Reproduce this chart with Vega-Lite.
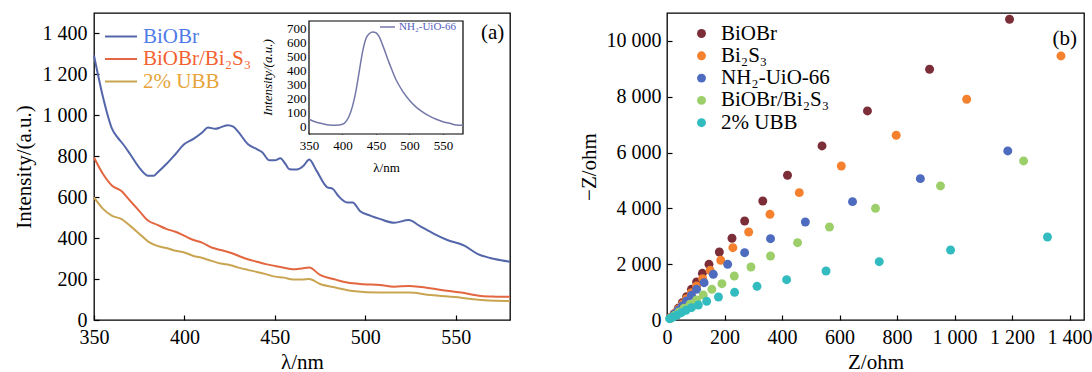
{
  "$schema": "https://vega.github.io/schema/vega-lite/v6.json",
  "padding": {"left": 12, "top": 12, "right": 0, "bottom": 0},
  "spacing": 62,
  "config": {
    "font": "Liberation Serif",
    "view": {"stroke": "#000", "strokeWidth": 1.3},
    "axis": {"domain": false, "grid": false, "ticks": true, "tickColor": "#000", "tickWidth": 1.2, "tickSize": -5, "labelPadding": 12, "labelFontSize": 20, "labelColor": "#000", "titleFontSize": 21, "titleFontWeight": "normal", "titleColor": "#000", "labelFlush": false, "zindex": 1},
    "legend": {"padding": 0}
  },
  "datasets": {
    "pl": [
      {"s":"BiOBr","wl":350,"v":1292},{"s":"BiOBr","wl":355,"v":1088},{"s":"BiOBr","wl":360,"v":934},{"s":"BiOBr","wl":363,"v":892},{"s":"BiOBr","wl":366,"v":860},{"s":"BiOBr","wl":370,"v":810},{"s":"BiOBr","wl":375,"v":745},{"s":"BiOBr","wl":380,"v":705},{"s":"BiOBr","wl":383,"v":705},{"s":"BiOBr","wl":385,"v":720},{"s":"BiOBr","wl":390,"v":762},{"s":"BiOBr","wl":395,"v":810},{"s":"BiOBr","wl":400,"v":860},{"s":"BiOBr","wl":405,"v":885},{"s":"BiOBr","wl":410,"v":917},{"s":"BiOBr","wl":413,"v":941},{"s":"BiOBr","wl":417,"v":934},{"s":"BiOBr","wl":420,"v":941},{"s":"BiOBr","wl":424,"v":952},{"s":"BiOBr","wl":427,"v":945},{"s":"BiOBr","wl":430,"v":917},{"s":"BiOBr","wl":435,"v":860},{"s":"BiOBr","wl":440,"v":835},{"s":"BiOBr","wl":443,"v":820},{"s":"BiOBr","wl":447,"v":780},{"s":"BiOBr","wl":450,"v":780},{"s":"BiOBr","wl":453,"v":790},{"s":"BiOBr","wl":456,"v":760},{"s":"BiOBr","wl":458,"v":737},{"s":"BiOBr","wl":462,"v":735},{"s":"BiOBr","wl":466,"v":755},{"s":"BiOBr","wl":469,"v":784},{"s":"BiOBr","wl":473,"v":730},{"s":"BiOBr","wl":479,"v":648},{"s":"BiOBr","wl":482,"v":641},{"s":"BiOBr","wl":485,"v":607},{"s":"BiOBr","wl":490,"v":574},{"s":"BiOBr","wl":493,"v":574},{"s":"BiOBr","wl":497,"v":533},{"s":"BiOBr","wl":503,"v":509},{"s":"BiOBr","wl":508,"v":494},{"s":"BiOBr","wl":516,"v":475},{"s":"BiOBr","wl":524,"v":489},{"s":"BiOBr","wl":530,"v":460},{"s":"BiOBr","wl":538,"v":421},{"s":"BiOBr","wl":545,"v":392},{"s":"BiOBr","wl":555,"v":362},{"s":"BiOBr","wl":562,"v":323},{"s":"BiOBr","wl":569,"v":303},{"s":"BiOBr","wl":575,"v":292},{"s":"BiOBr","wl":580,"v":285},
      {"s":"BiOBr/Bi₂S₃","wl":350,"v":794},{"s":"BiOBr/Bi₂S₃","wl":355,"v":713},{"s":"BiOBr/Bi₂S₃","wl":360,"v":656},{"s":"BiOBr/Bi₂S₃","wl":365,"v":631},{"s":"BiOBr/Bi₂S₃","wl":370,"v":582},{"s":"BiOBr/Bi₂S₃","wl":375,"v":533},{"s":"BiOBr/Bi₂S₃","wl":380,"v":485},{"s":"BiOBr/Bi₂S₃","wl":385,"v":465},{"s":"BiOBr/Bi₂S₃","wl":390,"v":445},{"s":"BiOBr/Bi₂S₃","wl":395,"v":431},{"s":"BiOBr/Bi₂S₃","wl":400,"v":411},{"s":"BiOBr/Bi₂S₃","wl":405,"v":391},{"s":"BiOBr/Bi₂S₃","wl":410,"v":377},{"s":"BiOBr/Bi₂S₃","wl":415,"v":354},{"s":"BiOBr/Bi₂S₃","wl":420,"v":342},{"s":"BiOBr/Bi₂S₃","wl":425,"v":330},{"s":"BiOBr/Bi₂S₃","wl":430,"v":313},{"s":"BiOBr/Bi₂S₃","wl":435,"v":297},{"s":"BiOBr/Bi₂S₃","wl":440,"v":285},{"s":"BiOBr/Bi₂S₃","wl":445,"v":273},{"s":"BiOBr/Bi₂S₃","wl":450,"v":264},{"s":"BiOBr/Bi₂S₃","wl":455,"v":255},{"s":"BiOBr/Bi₂S₃","wl":460,"v":248},{"s":"BiOBr/Bi₂S₃","wl":465,"v":252},{"s":"BiOBr/Bi₂S₃","wl":469,"v":256},{"s":"BiOBr/Bi₂S₃","wl":475,"v":220},{"s":"BiOBr/Bi₂S₃","wl":484,"v":196},{"s":"BiOBr/Bi₂S₃","wl":490,"v":183},{"s":"BiOBr/Bi₂S₃","wl":499,"v":175},{"s":"BiOBr/Bi₂S₃","wl":508,"v":171},{"s":"BiOBr/Bi₂S₃","wl":516,"v":163},{"s":"BiOBr/Bi₂S₃","wl":524,"v":166},{"s":"BiOBr/Bi₂S₃","wl":531,"v":161},{"s":"BiOBr/Bi₂S₃","wl":542,"v":147},{"s":"BiOBr/Bi₂S₃","wl":553,"v":134},{"s":"BiOBr/Bi₂S₃","wl":564,"v":117},{"s":"BiOBr/Bi₂S₃","wl":572,"v":114},{"s":"BiOBr/Bi₂S₃","wl":580,"v":113},
      {"s":"2% UBB","wl":350,"v":599},{"s":"2% UBB","wl":355,"v":543},{"s":"2% UBB","wl":360,"v":509},{"s":"2% UBB","wl":365,"v":494},{"s":"2% UBB","wl":370,"v":460},{"s":"2% UBB","wl":375,"v":422},{"s":"2% UBB","wl":380,"v":383},{"s":"2% UBB","wl":385,"v":362},{"s":"2% UBB","wl":390,"v":352},{"s":"2% UBB","wl":395,"v":338},{"s":"2% UBB","wl":400,"v":330},{"s":"2% UBB","wl":405,"v":313},{"s":"2% UBB","wl":410,"v":303},{"s":"2% UBB","wl":415,"v":289},{"s":"2% UBB","wl":420,"v":276},{"s":"2% UBB","wl":425,"v":269},{"s":"2% UBB","wl":430,"v":256},{"s":"2% UBB","wl":435,"v":245},{"s":"2% UBB","wl":440,"v":235},{"s":"2% UBB","wl":445,"v":224},{"s":"2% UBB","wl":450,"v":212},{"s":"2% UBB","wl":455,"v":207},{"s":"2% UBB","wl":460,"v":198},{"s":"2% UBB","wl":465,"v":198},{"s":"2% UBB","wl":469,"v":200},{"s":"2% UBB","wl":475,"v":176},{"s":"2% UBB","wl":484,"v":158},{"s":"2% UBB","wl":493,"v":142},{"s":"2% UBB","wl":508,"v":134},{"s":"2% UBB","wl":524,"v":134},{"s":"2% UBB","wl":536,"v":122},{"s":"2% UBB","wl":553,"v":109},{"s":"2% UBB","wl":564,"v":98},{"s":"2% UBB","wl":572,"v":94},{"s":"2% UBB","wl":580,"v":93}
    ],
    "inset": [
      {"s":"NH₂-UiO-66","wl":350,"v":54},{"s":"NH₂-UiO-66","wl":360,"v":35},{"s":"NH₂-UiO-66","wl":370,"v":23},{"s":"NH₂-UiO-66","wl":380,"v":14},{"s":"NH₂-UiO-66","wl":390,"v":12},{"s":"NH₂-UiO-66","wl":400,"v":19},{"s":"NH₂-UiO-66","wl":405,"v":37},{"s":"NH₂-UiO-66","wl":410,"v":77},{"s":"NH₂-UiO-66","wl":415,"v":147},{"s":"NH₂-UiO-66","wl":420,"v":252},{"s":"NH₂-UiO-66","wl":425,"v":392},{"s":"NH₂-UiO-66","wl":430,"v":532},{"s":"NH₂-UiO-66","wl":435,"v":625},{"s":"NH₂-UiO-66","wl":440,"v":660},{"s":"NH₂-UiO-66","wl":445,"v":672},{"s":"NH₂-UiO-66","wl":450,"v":667},{"s":"NH₂-UiO-66","wl":455,"v":637},{"s":"NH₂-UiO-66","wl":460,"v":579},{"s":"NH₂-UiO-66","wl":470,"v":450},{"s":"NH₂-UiO-66","wl":480,"v":334},{"s":"NH₂-UiO-66","wl":490,"v":252},{"s":"NH₂-UiO-66","wl":500,"v":189},{"s":"NH₂-UiO-66","wl":510,"v":140},{"s":"NH₂-UiO-66","wl":520,"v":105},{"s":"NH₂-UiO-66","wl":530,"v":77},{"s":"NH₂-UiO-66","wl":540,"v":54},{"s":"NH₂-UiO-66","wl":550,"v":37},{"s":"NH₂-UiO-66","wl":560,"v":26},{"s":"NH₂-UiO-66","wl":570,"v":14},{"s":"NH₂-UiO-66","wl":580,"v":12}
    ],
    "pr": [
      {"s":"BiOBr","x":12,"y":84},{"s":"BiOBr","x":25,"y":227},{"s":"BiOBr","x":39,"y":418},{"s":"BiOBr","x":53,"y":621},{"s":"BiOBr","x":68,"y":836},{"s":"BiOBr","x":85,"y":1099},{"s":"BiOBr","x":103,"y":1362},{"s":"BiOBr","x":123,"y":1673},{"s":"BiOBr","x":146,"y":1995},{"s":"BiOBr","x":182,"y":2437},{"s":"BiOBr","x":226,"y":2928},{"s":"BiOBr","x":270,"y":3548},{"s":"BiOBr","x":333,"y":4265},{"s":"BiOBr","x":419,"y":5186},{"s":"BiOBr","x":539,"y":6236},{"s":"BiOBr","x":697,"y":7490},{"s":"BiOBr","x":913,"y":8984},{"s":"BiOBr","x":1191,"y":10775},
      {"s":"Bi₂S₃","x":12,"y":84},{"s":"Bi₂S₃","x":25,"y":227},{"s":"Bi₂S₃","x":39,"y":382},{"s":"Bi₂S₃","x":53,"y":562},{"s":"Bi₂S₃","x":68,"y":765},{"s":"Bi₂S₃","x":85,"y":980},{"s":"Bi₂S₃","x":103,"y":1219},{"s":"Bi₂S₃","x":124,"y":1481},{"s":"Bi₂S₃","x":150,"y":1780},{"s":"Bi₂S₃","x":187,"y":2140},{"s":"Bi₂S₃","x":229,"y":2592},{"s":"Bi₂S₃","x":284,"y":3154},{"s":"Bi₂S₃","x":358,"y":3787},{"s":"Bi₂S₃","x":460,"y":4563},{"s":"Bi₂S₃","x":606,"y":5519},{"s":"Bi₂S₃","x":797,"y":6620},{"s":"Bi₂S₃","x":1042,"y":7910},{"s":"Bi₂S₃","x":1370,"y":9462},
      {"s":"NH₂-UiO-66","x":12,"y":60},{"s":"NH₂-UiO-66","x":25,"y":203},{"s":"NH₂-UiO-66","x":39,"y":346},{"s":"NH₂-UiO-66","x":53,"y":502},{"s":"NH₂-UiO-66","x":68,"y":681},{"s":"NH₂-UiO-66","x":85,"y":884},{"s":"NH₂-UiO-66","x":103,"y":1099},{"s":"NH₂-UiO-66","x":129,"y":1338},{"s":"NH₂-UiO-66","x":161,"y":1637},{"s":"NH₂-UiO-66","x":211,"y":1995},{"s":"NH₂-UiO-66","x":270,"y":2413},{"s":"NH₂-UiO-66","x":360,"y":2914},{"s":"NH₂-UiO-66","x":481,"y":3512},{"s":"NH₂-UiO-66","x":645,"y":4241},{"s":"NH₂-UiO-66","x":881,"y":5065},{"s":"NH₂-UiO-66","x":1185,"y":6057},
      {"s":"BiOBr/Bi₂S₃","x":12,"y":60},{"s":"BiOBr/Bi₂S₃","x":27,"y":167},{"s":"BiOBr/Bi₂S₃","x":42,"y":287},{"s":"BiOBr/Bi₂S₃","x":59,"y":418},{"s":"BiOBr/Bi₂S₃","x":80,"y":562},{"s":"BiOBr/Bi₂S₃","x":103,"y":717},{"s":"BiOBr/Bi₂S₃","x":126,"y":896},{"s":"BiOBr/Bi₂S₃","x":156,"y":1099},{"s":"BiOBr/Bi₂S₃","x":191,"y":1302},{"s":"BiOBr/Bi₂S₃","x":234,"y":1577},{"s":"BiOBr/Bi₂S₃","x":292,"y":1900},{"s":"BiOBr/Bi₂S₃","x":360,"y":2294},{"s":"BiOBr/Bi₂S₃","x":454,"y":2771},{"s":"BiOBr/Bi₂S₃","x":565,"y":3333},{"s":"BiOBr/Bi₂S₃","x":725,"y":4002},{"s":"BiOBr/Bi₂S₃","x":951,"y":4803},{"s":"BiOBr/Bi₂S₃","x":1240,"y":5699},
      {"s":"2% UBB","x":9,"y":48},{"s":"2% UBB","x":21,"y":107},{"s":"2% UBB","x":35,"y":179},{"s":"2% UBB","x":50,"y":263},{"s":"2% UBB","x":66,"y":346},{"s":"2% UBB","x":85,"y":442},{"s":"2% UBB","x":109,"y":538},{"s":"2% UBB","x":138,"y":669},{"s":"2% UBB","x":179,"y":824},{"s":"2% UBB","x":235,"y":992},{"s":"2% UBB","x":313,"y":1207},{"s":"2% UBB","x":416,"y":1445},{"s":"2% UBB","x":553,"y":1756},{"s":"2% UBB","x":738,"y":2090},{"s":"2% UBB","x":986,"y":2509},{"s":"2% UBB","x":1323,"y":2975}
    ]
  },
  "hconcat": [
    {
      "width": 416,
      "height": 307,
      "layer": [
        {
          "layer": [
            {
              "data": {"name": "pl"},
              "mark": {"type": "line", "strokeWidth": 2, "interpolate": "monotone"},
              "encoding": {
                "x": {"field": "wl", "type": "quantitative", "title": "λ/nm", "scale": {"domain": [350, 580], "nice": false, "zero": false}, "axis": {"values": [350, 400, 450, 500, 550], "titlePadding": 4}},
                "y": {"field": "v", "type": "quantitative", "title": "Intensity/(a.u.)", "scale": {"domain": [0, 1500], "nice": false}, "axis": {"values": [0, 200, 400, 600, 800, 1000, 1200, 1400], "labelExpr": "replace(format(datum.value, ','), ',', ' ')", "titlePadding": 8}},
                "color": {
                  "field": "s", "type": "nominal",
                  "scale": {"domain": ["BiOBr", "BiOBr/Bi₂S₃", "2% UBB"], "range": ["#5466aa", "#e2663f", "#c9a552"]},
                  "legend": {
                    "title": null, "orient": "none", "legendX": 10, "legendY": 13,
                    "symbolType": "stroke", "symbolSize": 1024, "symbolStrokeWidth": 2, "clipHeight": 21, "rowPadding": 0.5,
                    "labelFontSize": 21, "labelOffset": 5, "labelLimit": 300,
                    "encode": {"labels": {"update": {"fill": {"signal": "datum.index === 0 ? '#4f7be8' : datum.index === 2 ? '#e6a43a' : '#f2622f'"}}}}
                  }
                }
              }
            },
            {
              "data": {"values": [{"t": "(a)", "x": 570.4, "y": 1400}]},
              "mark": {"type": "text", "fontSize": 21, "align": "center", "baseline": "middle", "color": "#000"},
              "encoding": {
                "x": {"field": "x", "type": "quantitative", "title": "λ/nm"},
                "y": {"field": "y", "type": "quantitative", "title": "Intensity/(a.u.)"},
                "text": {"field": "t"}
              }
            }
          ]
        },
        {
          "layer": [
            {
              "data": {"values": [{"x0": 350, "x1": 580, "y0": -50, "y1": 750}]},
              "mark": {"type": "rect", "fill": "#fff", "stroke": "#000", "strokeWidth": 1.2},
              "encoding": {
                "x": {"field": "x0", "type": "quantitative", "title": "λ/nm", "scale": {"domain": [28.9, 650.2], "nice": false, "zero": false}, "axis": {"orient": "bottom", "offset": -186, "values": [350, 400, 450, 500, 550], "tickSize": -3, "labelPadding": 8, "labelFontSize": 13, "titleFontSize": 13, "titleX": 292, "titleY": 27}},
                "x2": {"field": "x1"},
                "y": {"field": "y0", "type": "quantitative", "title": "Intensity/(a.u.)", "scale": {"domain": [-1366.9, 806.6], "nice": false, "zero": false}, "axis": {"orient": "left", "offset": -215, "values": [0, 100, 200, 300, 400, 500, 600, 700], "tickSize": -3, "labelPadding": 6, "labelFontSize": 13, "titleFontSize": 13, "titleFontStyle": "italic", "titleX": -35, "titleY": 64}},
                "y2": {"field": "y1"}
              }
            },
            {
              "data": {"name": "inset"},
              "mark": {"type": "line", "strokeWidth": 1.5, "interpolate": "monotone"},
              "encoding": {
                "x": {"field": "wl", "type": "quantitative", "title": "λ/nm"},
                "y": {"field": "v", "type": "quantitative", "title": "Intensity/(a.u.)"},
                "color": {
                  "field": "s", "type": "nominal",
                  "scale": {"domain": ["NH₂-UiO-66"], "range": ["#7478a8"]},
                  "legend": {
                    "title": null, "orient": "none", "legendX": 285, "legendY": 8,
                    "symbolType": "stroke", "symbolSize": 225, "symbolStrokeWidth": 1.5, "clipHeight": 12,
                    "labelFontSize": 11, "labelOffset": 3,
                    "encode": {"labels": {"update": {"fill": {"value": "#5560c0"}}}}
                  }
                }
              }
            }
          ]
        }
      ],
      "resolve": {"scale": {"x": "independent", "y": "independent", "color": "independent"}, "axis": {"x": "independent", "y": "independent"}, "legend": {"color": "independent"}}
    },
    {
      "width": 417,
      "height": 307,
      "layer": [
        {
          "data": {"name": "pr"},
          "mark": {"type": "point", "filled": true, "size": 80, "opacity": 1},
          "encoding": {
            "x": {"field": "x", "type": "quantitative", "title": "Z/ohm", "scale": {"domain": [0, 1450], "nice": false}, "axis": {"values": [0, 200, 400, 600, 800, 1000, 1200, 1400], "labelExpr": "replace(format(datum.value, ','), ',', ' ')", "titlePadding": 4}},
            "y": {"field": "y", "type": "quantitative", "title": "−Z/ohm", "scale": {"domain": [0, 11000], "nice": false}, "axis": {"values": [0, 2000, 4000, 6000, 8000, 10000], "labelExpr": "replace(format(datum.value, ','), ',', ' ')", "labelPadding": 11, "titlePadding": 7}},
            "color": {
              "field": "s", "type": "nominal",
              "scale": {"domain": ["BiOBr", "Bi₂S₃", "NH₂-UiO-66", "BiOBr/Bi₂S₃", "2% UBB"], "range": ["#7b2d38", "#f5812f", "#4d6bbf", "#9ccf6a", "#33bcc0"]},
              "legend": {
                "title": null, "orient": "none", "legendX": 24, "legendY": 10,
                "symbolSize": 80, "clipHeight": 21, "rowPadding": 0.3,
                "labelFontSize": 21, "labelOffset": 9, "labelLimit": 300,
                "encode": {"labels": {"update": {"fill": {"signal": "datum.index === 0 ? '#3d1418' : datum.index === 1 ? '#f2622a' : datum.index === 2 ? '#4a7ff5' : datum.index === 4 ? '#45efb4' : '#a4f25a'"}}}}
              }
            }
          }
        },
        {
          "data": {"values": [{"t": "(b)", "x": 1383, "y": 10070}]},
          "mark": {"type": "text", "fontSize": 21, "align": "center", "baseline": "middle", "color": "#000"},
          "encoding": {
            "x": {"field": "x", "type": "quantitative", "title": "Z/ohm"},
            "y": {"field": "y", "type": "quantitative", "title": "−Z/ohm"},
            "text": {"field": "t"}
          }
        }
      ]
    }
  ],
  "resolve": {"scale": {"color": "independent"}, "legend": {"color": "independent"}}
}
